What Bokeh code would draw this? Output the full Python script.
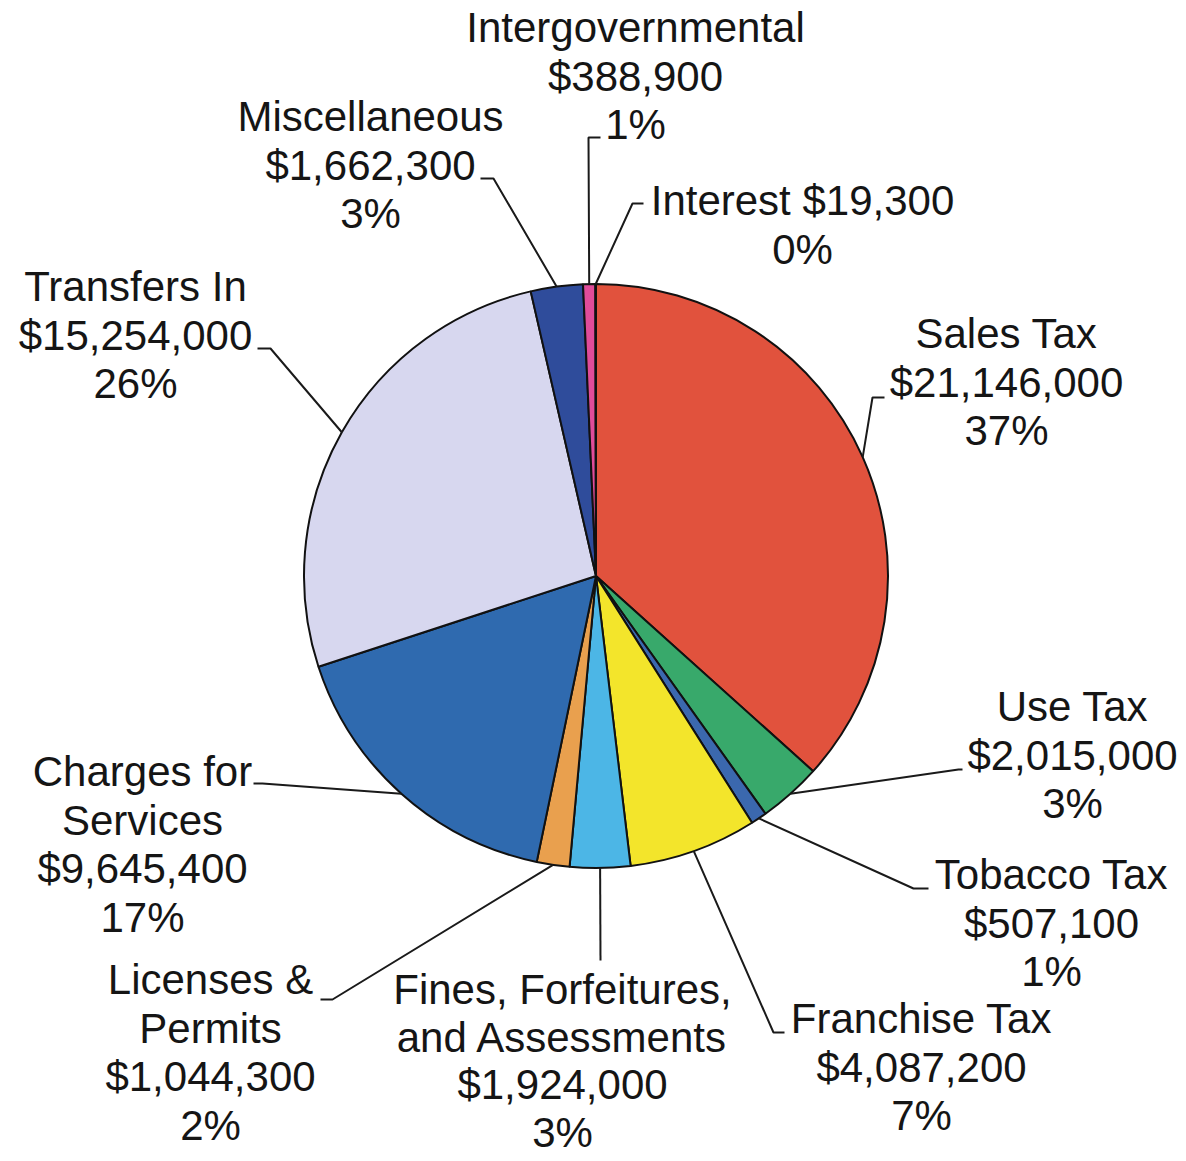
import math
from bokeh.plotting import figure
from bokeh.models import Range1d, ColumnDataSource
from bokeh.core.properties import value
from bokeh.embed import file_html
from bokeh.resources import INLINE

# ---- data ----
categories = ["Sales Tax", "Use Tax", "Tobacco Tax", "Franchise Tax",
              "Fines, Forfeitures, and Assessments", "Licenses & Permits",
              "Charges for Services", "Transfers In", "Miscellaneous",
              "Intergovernmental", "Interest"]
amounts = [21146000, 2015000, 507100, 4087200, 1924000, 1044300,
           9645400, 15254000, 1662300, 388900, 19300]
name_lines = [["Sales Tax"], ["Use Tax"], ["Tobacco Tax"], ["Franchise Tax"],
              ["Fines, Forfeitures,", "and Assessments"], ["Licenses &", "Permits"],
              ["Charges for", "Services"], ["Transfers In"], ["Miscellaneous"],
              ["Intergovernmental"], ["Interest"]]
value_inline = [False] * 10 + [True]
colors = ["#E1523D", "#38A96B", "#3B68AE", "#F3E52B", "#4CB6E6", "#E9A04E",
          "#2F6AAF", "#D7D7EF", "#2F4C9B", "#E04C9A", "#B0B0D8"]

# ---- layout (image pixel coordinates) ----
CX, CY, R = 595.5, 575.5, 292.0
label_pos = [(1006, 333), (1072, 706), (1051, 874), (921, 1018), (562, 989),
             (210, 979), (142, 771), (135, 286), (370, 116), (635, 27), (802, 200)]
line_h = [48.5] * 4 + [47.5] + [48.5] * 6
elbows = [(872, 397), (958, 769), (913, 888), (773, 1032), (600, 960),
          (332, 999), (262, 783), (270, 348), (493, 178), (588, 137), (632, 203)]
ends = [(884, 397), (962, 769), (928, 888), (784, 1032), (600, 960),
        (320, 999), (253, 783), (257, 348), (480, 178), (600, 137), (643, 203)]

W, H = 1180, 1161
p = figure(width=W, height=H, output_backend="svg", toolbar_location=None,
           x_range=Range1d(0, W), y_range=Range1d(-H, 0),
           x_axis_type=None, y_axis_type=None, min_border=0)
p.outline_line_color = None
p.grid.visible = False
p.background_fill_color = "white"
p.border_fill_color = "white"

total = float(sum(amounts))
starts, ends_a, mids = [], [], []
cum = 0.0
for a in amounts:
    f0 = cum / total
    cum += a
    f1 = cum / total
    starts.append(math.pi / 2 - 2 * math.pi * f0)
    ends_a.append(math.pi / 2 - 2 * math.pi * f1)
    mids.append(math.pi / 2 - 2 * math.pi * (f0 + f1) / 2)

src = ColumnDataSource(dict(x=[CX] * len(amounts), y=[-CY] * len(amounts),
                            start=starts, end=ends_a, color=colors))
p.wedge(x="x", y="y", radius=R, start_angle="start", end_angle="end",
        direction="clock", fill_color="color", line_color="#111111",
        line_width=2, source=src)

# leader lines
xs, ys = [], []
for i, m in enumerate(mids):
    sx = CX + R * math.cos(m)
    sy = CY - R * math.sin(m)
    xs.append([sx, elbows[i][0], ends[i][0]])
    ys.append([-sy, -elbows[i][1], -ends[i][1]])
p.multi_line(xs=xs, ys=ys, line_color="#1a1a1a", line_width=2)

# labels
tx, ty, tt = [], [], []
for i, a in enumerate(amounts):
    money = "${:,}".format(a)
    pct = "{}%".format(int(round(100 * a / total)))
    lines = list(name_lines[i])
    if value_inline[i]:
        lines[-1] = lines[-1] + " " + money
    else:
        lines.append(money)
    lines.append(pct)
    x0, y0 = label_pos[i]
    for k, t in enumerate(lines):
        tx.append(x0)
        ty.append(-(y0 + k * line_h[i]))
        tt.append(t)
p.text(x=tx, y=ty, text=tt, text_font=value("Liberation Sans"),
       text_font_size="42px", text_align="center", text_baseline="middle",
       text_color="#151515")

open("out.html", "w").write(file_html(p, INLINE))
